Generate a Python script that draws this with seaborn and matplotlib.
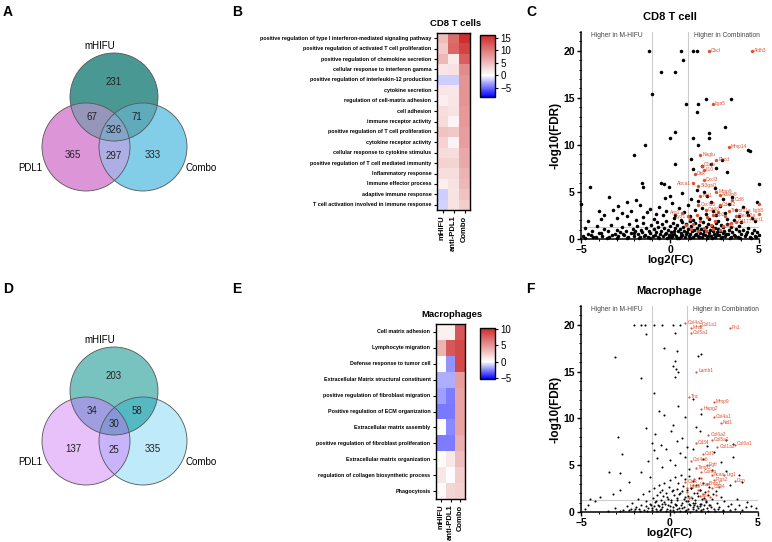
import numpy as np
import pandas as pd
import matplotlib
matplotlib.use("Agg")
import matplotlib.pyplot as plt
import seaborn as sns
from matplotlib.colors import LinearSegmentedColormap
from matplotlib.patches import Circle
from matplotlib.path import Path
from matplotlib.ticker import MultipleLocator

# ---------------- data ----------------
venn_a_counts = [231, 67, 71, 326, 365, 297, 333]   # top, top&left, top&right, all, left, left&right, right
venn_d_counts = [203, 34, 58, 30, 137, 25, 335]
venn_sets = ["mHIFU", "PDL1", "Combo"]

groups = ["mHIFU", "anti-PDL1", "Combo"]

cd8_terms = [
    "positive regulation of type I interferon-mediated signaling pathway",
    "positive regulation of activated T cell proliferation",
    "positive regulation of chemokine secretion",
    "cellular response to interferon gamma",
    "positive regulation of interleukin-12 production",
    "cytokine secretion",
    "regulation of cell-matrix adhesion",
    "cell adhesion",
    "immune receptor activity",
    "positive regulation of T cell proliferation",
    "cytokine receptor activity",
    "cellular response to cytokine stimulus",
    "positive regulation of T cell mediated immunity",
    "Inflammatory response",
    "Immune effector process",
    "adaptive immune response",
    "T cell activation involved in immune response",
]
cd8_mhifu = [5.0, 4.0, 5.3, 2.0, -1.7, 2.0, 1.3, 2.5, 2.7, 4.6, 3.4, 2.7, 3.4, 2.5, 1.3, -1.7, -1.5]
cd8_pdl1 = [11.0, 11.5, 1.5, 2.3, -1.7, 1.8, 2.0, 2.1, 0.8, 4.2, 0.8, 2.5, 3.3, 2.5, 2.3, 2.1, 2.1]
cd8_combo = [15.5, 14.0, 12.0, 8.8, 8.0, 8.0, 8.0, 7.6, 7.6, 7.2, 7.2, 6.5, 6.5, 5.7, 5.3, 4.6, 3.8]

mac_terms = [
    "Cell matrix adhesion",
    "Lymphocyte migration",
    "Defense response to tumor cell",
    "Extracellular Matrix structural constituent",
    "positive regulation of fibroblast migration",
    "Positive regulation of ECM organization",
    "Extracellular matrix assembly",
    "positive regulation of fibroblast proliferation",
    "Extracellular matrix organization",
    "regulation of collagen biosynthetic process",
    "Phagocytosis",
]
mac_mhifu = [0.7, 3.7, 0.0, -1.7, -2.0, -2.8, 0.0, -2.7, 0.2, 1.2, 0.2]
mac_pdl1 = [0.7, 8.1, -2.2, -1.7, -2.7, -2.8, -2.4, -2.7, 1.1, 0.0, 2.0]
mac_combo = [8.1, 8.8, 8.8, 4.7, 4.4, 4.4, 4.4, 3.9, 3.2, 2.5, 2.2]

# CD8 T cell volcano: non-significant / unlabeled genes (log2FC, -log10FDR)
cd8_x = [-1.2, 0.6, 1.3, 1.5, 0.75, -0.5, 0.3, -1.0, 2.0, 3.4, 1.6, 1.5, 0.9, 3.1, 0.3, 2.2, 2.2, 1.3, 0.0,
         -1.4, -2.0, 1.6, 4.4, 4.5, 1.2, 0.3, 2.3, 1.8, 2.9, 3.2, 2.6, 1.3, -4.5, -1.6, -1.5, -0.5, -0.35,
         -0.05, 0.0, -3.4, -2.4, -1.9, -5.0, 5.0, 4.9,
         -4.0, -3.7, -3.2, -2.9, -2.7, -2.2, -1.7, -1.3, -1.1, -0.8, -0.6, -0.3, -0.2, 0.1, 0.3, 0.5, 0.7,
         0.8, 1.0, 1.2, 1.4, 1.5, 1.6, 1.8, 1.9, 2.0, 2.1, 2.3, 2.4, 2.5, 2.6, 2.8, 3.0, 3.1, 3.3, 3.5,
         3.7, 3.9, 4.1, 4.3, 4.6, -4.6, -3.9, -3.0, -2.4, -1.9, -1.5, -0.9, -0.4, 0.2, 0.6, 1.1, 1.3, 1.7,
         2.2, 2.7, 3.2, 3.6, 4.0, 4.4, 4.8,
         -4.9, -4.8, -4.6, -4.4, -4.3, -4.1, -4.0, -3.8, -3.7, -3.5, -3.4, -3.3, -3.1, -3.0, -2.9, -2.8,
         -2.7, -2.6, -2.5, -2.4, -2.3, -2.2, -2.1, -2.0, -1.95, -1.85, -1.8, -1.7, -1.65, -1.55, -1.5,
         -1.4, -1.35, -1.25, -1.2, -1.1, -1.05, -0.95, -0.9, -0.8, -0.75, -0.7, -0.65, -0.55, -0.5,
         -0.45, -0.4, -0.35, -0.25, -0.2, -0.15, -0.1, -0.05, 0.0, 0.05, 0.1, 0.15, 0.2, 0.25, 0.3,
         0.35, 0.4, 0.45, 0.5, 0.55, 0.6, 0.65, 0.7, 0.75, 0.8, 0.85, 0.9, 0.95, 1.0, 1.05, 1.1, 1.15,
         1.2, 1.25, 1.3, 1.35, 1.4, 1.45, 1.5, 1.55, 1.6, 1.65, 1.7, 1.75, 1.8, 1.85, 1.9, 1.95, 2.0,
         2.05, 2.1, 2.15, 2.2, 2.25, 2.3, 2.35, 2.4, 2.45, 2.5, 2.55, 2.6, 2.65, 2.7, 2.75, 2.8, 2.85,
         2.9, 2.95, 3.0, 3.05, 3.1, 3.2, 3.25, 3.3, 3.4, 3.45, 3.5, 3.6, 3.7, 3.8, 3.85, 3.9, 4.0, 4.1,
         4.2, 4.3, 4.4, 4.5, 4.6, 4.7, 4.8, 4.9, 5.0,
         -4.75, -4.45, -4.15, -3.85, -3.55, -3.25, -2.95, -2.65, -2.35, -2.05, -1.75, -1.45, -1.15,
         -0.85, -0.6, -0.3, -0.08, 0.12, 0.38, 0.62, 0.88, 1.12, 1.38, 1.62, 1.88, 2.12, 2.38, 2.62,
         2.88, 3.15, 3.35, 3.65, 3.95, 4.25, 4.55, 4.85]
cd8_y = [20, 20, 20, 20, 19, 17.8, 17.8, 15.4, 14.9, 14.9, 14.4, 13.5, 14.3, 11.9, 11.4, 11.3, 10.7, 10.7, 10.7,
         10.0, 8.9, 10.0, 9.5, 9.3, 8.5, 8.0, 8.0, 7.8, 8.4, 7.1, 7.5, 7.4, 5.5, 5.9, 5.5, 5.9, 5.8,
         5.5, 4.6, 4.5, 3.9, 4.1, 3.7, 5.8, 3.9,
         3.0, 2.6, 3.1, 3.5, 2.8, 3.0, 3.6, 2.9, 3.2, 2.7, 3.4, 4.4, 3.0, 3.8, 2.6, 3.3, 4.9,
         2.9, 3.6, 4.3, 3.1, 5.2, 4.0, 3.3, 5.0, 2.7, 4.6, 3.9, 3.0, 5.4, 2.5, 3.5, 4.2, 2.8, 3.7, 4.5,
         3.1, 2.4, 3.4, 2.9, 2.2, 1.9, 2.1, 2.2, 2.4, 2.0, 2.3, 2.1, 2.5, 2.2, 2.0, 2.4, 2.0, 2.2,
         2.1, 1.9, 2.1, 2.0, 1.8, 2.5, 1.9,
         0.3, 1.2, 0.5, 0.9, 0.2, 1.4, 0.6, 0.3, 1.1, 0.8, 0.2, 1.5, 0.5, 1.0, 0.3, 0.7,
         1.3, 0.4, 0.9, 0.1, 1.6, 0.6, 1.1, 0.3, 0.8, 1.4, 0.5, 0.2, 1.0, 0.7, 1.7,
         0.4, 1.2, 0.2, 0.9, 0.6, 1.5, 0.3, 1.1, 0.7, 1.8, 0.2, 1.3, 0.5, 0.9,
         1.6, 0.3, 1.2, 0.6, 1.9, 0.1, 1.0, 0.4, 1.4, 0.7, 0.2, 1.7, 0.9, 0.5, 1.2,
         0.3, 1.5, 0.8, 0.1, 1.1, 0.6, 1.8, 0.4, 1.3, 0.9, 0.2, 1.6, 0.7, 1.1, 0.3, 1.9, 0.5,
         1.4, 0.8, 0.2, 1.0, 1.7, 0.5, 1.2, 0.3, 0.9, 1.5, 0.6, 1.1, 0.2, 1.8, 0.8, 0.4, 1.3,
         0.9, 0.1, 1.6, 0.6, 1.0, 0.3, 1.4, 0.8, 0.5, 1.2, 0.2, 1.7, 0.7, 1.1, 0.4, 0.9, 1.5,
         0.2, 0.6, 1.3, 0.9, 0.3, 1.6, 0.5, 1.0, 0.2, 1.3, 0.7, 0.4, 1.1, 0.2, 0.8, 1.4, 0.5, 1.0,
         0.3, 0.7, 1.2, 0.2, 0.6, 1.0, 0.3, 0.7, 0.4,
         0.1, 0.4, 0.2, 0.6, 0.1, 0.4, 0.1, 0.5, 0.2, 0.6, 0.1, 0.3, 0.1,
         0.4, 0.1, 0.5, 0.2, 0.4, 0.1, 0.3, 0.5, 0.1, 0.4, 0.2, 0.5, 0.3, 0.1, 0.4,
         0.1, 0.5, 0.1, 0.3, 0.1, 0.5, 0.1, 0.2]

# CD8 T cell volcano: highlighted genes
cd8_genes = ["Cbcl", "Aldh3", "Itga5", "Mmp14", "Naglu", "Pkcd", "C1qb", "Il10", "Dbk", "Cxcl3", "Abca1",
             "St3gal1", "Mmp9", "Ncl1", "Adam8", "Ccl6", "Cdc42", "Cxcl16", "Tnfrsf11a", "Itgb8", "Cxcr1",
             "Clec12a", "Cd177", "Mx1", "Arg1", "Lyz1", "Cd40", "Lcp2"]
cd8_gene_x = [2.2, 4.6, 2.4, 3.3, 1.7, 2.6, 1.8, 1.9, 1.4, 1.9, 1.3, 1.6, 2.6, 1.7, 2.8, 3.5, 2.8, 1.6, 3.3,
              5.0, 5.0, 3.7, 3.7, 3.0, 0.7, 1.0, 2.0, 2.4]
cd8_gene_y = [20, 20, 14.3, 9.8, 8.9, 8.4, 7.8, 7.3, 6.9, 6.3, 5.9, 5.6, 5.0, 4.6, 4.7, 4.1, 3.6, 3.6, 3.0,
              3.7, 2.7, 2.4, 1.8, 1.4, 2.8, 2.4, 3.1, 2.5]
cd8_sig_x = [1.1, 1.3, 1.5, 1.7, 1.9, 2.1, 2.3, 2.5, 2.7, 2.8, 1.2, 1.6, 2.0, 2.4, 0.9, 3.1, 3.4]
cd8_sig_y = [2.1, 1.6, 2.6, 1.9, 1.2, 2.3, 1.5, 1.9, 2.9, 1.0, 1.1, 0.9, 0.8, 1.1, 1.5, 2.4, 1.7]

# Macrophage volcano: unlabeled genes
mac_x = [-2.0, -1.6, -1.4, -0.9, -0.4, 0.2, 0.6, -1.3, 0.3, -0.3, 0.4, 1.6, 1.8, -3.1, 0.3, 0.2, 0.35, 0.5,
         0.3, -1.6, -0.9, 1.3, 0.5, -0.6, -0.3, 1.8, 0.9, -1.3, 0.2, 1.5, -2.9, -0.8, 0.1, 0.7, 1.7, 3.6,
         -1.0, -0.5, 0.4, 1.0, 2.1, 3.2, -2.7, -0.9, -0.2, 0.6, 1.3, 2.5, 3.6, -3.4, -2.8, -1.2, -0.7,
         0.0, 0.9, 1.9, 2.9, 3.2, 3.9, 4.1, -2.8, -2.3, -1.6, -1.1, -0.4, 0.3, 1.1, 2.4, 3.4, -4.5, -3.9,
         -3.2, -4.2, 3.8, 4.4, 4.6, -4.8, -4.6, 4.9,
         -2.6, -2.4, -2.2, -2.1, -2.0, -1.9, -1.8, -1.7, -1.6, -1.5, -1.45, -1.35, -1.3, -1.2, -1.15,
         -1.1, -1.0, -0.95, -0.9, -0.85, -0.8, -0.75, -0.7, -0.65, -0.6, -0.55, -0.5, -0.45, -0.4, -0.35,
         -0.3, -0.25, -0.2, -0.15, -0.1, -0.05, 0.0, 0.05, 0.1, 0.15, 0.2, 0.25, 0.3, 0.35, 0.4, 0.45,
         0.5, 0.55, 0.6, 0.65, 0.7, 0.75, 0.8, 0.85, 0.9, 0.95, 1.0, 1.05, 1.1, 1.15, 1.2, 1.25, 1.3,
         1.35, 1.4, 1.45, 1.5, 1.55, 1.6, 1.65, 1.7, 1.75, 1.8, 1.85, 1.9, 1.95, 2.0, 2.05, 2.1, 2.2,
         2.25, 2.3, 2.4, 2.5, 2.6, 2.7, 2.8, 2.9, 3.0, 3.1, 3.3, 3.5, 3.7, 3.9, 4.1, 4.3,
         -3.5, -3.1, -2.8, -2.3, -1.95, -1.65, -1.25, -0.98, -0.72, -0.48, -0.22, 0.02, 0.18, 0.28, 0.42,
         0.58, 0.72, 0.88, 1.02, 1.18, 1.32, 1.48, 1.62, 1.78, 1.92, 2.15, 2.35, 2.55, 2.75, 3.05, 3.4,
         -0.6, -0.1, 0.3, 0.65, 1.1, 1.4, 1.75, 2.25,
         -0.75, -0.4, -0.15, 0.1, 0.35, 0.55, 0.8, 1.05, 1.3, 1.55, 1.8, 2.05, -1.05, -0.3, 0.45, 0.95,
         1.45, 1.95, -0.55, 0.2, 0.7, 1.2, 1.7, 2.45]
mac_y = [20, 20, 20, 20, 20, 20, 20, 19, 19.1, 17.5, 17.2, 16.7, 16.9, 16.6, 16.1, 15.6, 15.3, 15.0,
         14.4, 14.3, 12.7, 12.1, 11.3, 10.8, 10.4, 10.5, 10.1, 9.0, 9.3, 9.1, 8.0, 8.3, 8.6, 7.9, 8.6, 7.3,
         7.4, 7.2, 7.6, 6.9, 7.0, 7.7, 6.2, 6.6, 6.7, 6.3, 6.7, 6.4, 5.9, 4.3, 4.2, 5.4, 5.8,
         5.6, 5.9, 5.7, 5.3, 4.4, 4.0, 3.2, 2.4, 3.2, 4.3, 3.7, 4.8, 5.0, 4.6, 4.5, 2.9, 1.4, 1.6,
         1.9, 1.2, 1.4, 1.1, 0.6, 0.3, 0.8, 0.4,
         0.2, 0.6, 0.3, 1.0, 0.1, 0.5, 1.4, 0.3, 0.8, 1.9, 0.2, 0.6, 1.2, 0.4, 2.2,
         0.9, 0.2, 1.5, 0.6, 2.6, 1.1, 0.3, 1.8, 0.7, 2.9, 0.2, 1.3, 2.3, 0.5, 1.7,
         3.1, 0.9, 2.0, 0.3, 1.4, 2.7, 0.6, 3.4, 1.1, 2.2, 0.2, 1.8, 3.7, 0.8, 2.5, 1.3,
         3.1, 0.4, 2.0, 3.9, 1.0, 2.8, 0.5, 1.6, 3.5, 0.2, 2.3, 1.2, 3.8, 0.7, 2.6, 1.5, 3.3,
         0.3, 2.0, 1.0, 2.9, 0.6, 1.7, 3.6, 0.9, 2.4, 0.2, 1.4, 3.1, 0.7, 2.1, 1.1, 0.4, 1.8,
         2.7, 0.8, 1.4, 0.3, 2.2, 1.0, 0.5, 1.6, 0.2, 1.2, 0.6, 0.9, 0.3, 0.7, 0.2, 0.5,
         0.1, 0.4, 0.1, 0.2, 0.3, 0.1, 0.15, 0.4, 0.1, 0.35, 0.1, 0.25, 0.5, 0.05, 0.3,
         0.1, 0.45, 0.15, 0.35, 0.05, 0.5, 0.2, 0.4, 0.1, 0.3, 0.15, 0.5, 0.1, 0.3, 0.1, 0.2,
         0.6, 0.8, 0.9, 0.7, 0.9, 0.7, 0.6, 0.7,
         1.2, 0.9, 1.6, 1.3, 0.8, 1.9, 1.4, 1.7, 1.0, 2.0, 0.9, 1.2, 0.8, 1.1, 1.5, 1.2,
         1.3, 1.5, 2.1, 2.4, 2.2, 2.6, 2.3, 1.9]

# Macrophage volcano: highlighted genes
mac_genes = ["Col4a3", "Mrc2", "Col1a1", "Col5a1", "Fn1", "Lamb1", "Tnc", "Mmp9", "Hapg2", "Col4a1", "Nid1",
             "Col6a2", "Col5a2", "Cd34", "Col1a2", "Col6a1", "Csf1", "Col4a6", "Egfr", "Timp3", "Comp",
             "Lrg1", "Dcn", "Acan", "Ptgs2", "Bmp1", "Cd44", "Lox", "Ctsk", "Itga5", "Vcan"]
mac_gene_x = [0.9, 1.2, 1.7, 1.2, 3.4, 1.5, 1.1, 2.5, 1.8, 2.5, 2.9, 2.2, 2.4, 1.5, 2.7, 3.7, 1.9, 1.2, 2.1,
              1.5, 1.8, 3.1, 3.7, 2.4, 2.5, 2.1, 2.4, 1.7, 0.9, 1.0, 1.6]
mac_gene_y = [20.2, 19.6, 19.9, 19.1, 19.6, 15.0, 12.3, 11.7, 11.0, 10.1, 9.5, 8.2, 7.7, 7.4, 6.9, 7.2, 6.2,
              5.5, 5.0, 4.7, 4.3, 3.9, 3.3, 3.9, 3.4, 3.0, 2.6, 1.7, 3.2, 2.6, 2.9]
mac_sig_x = [1.0, 1.2, 1.4, 1.6, 1.9, 2.2, 2.6, 2.8, 1.3, 2.0, 2.3, 1.1, 1.8]
mac_sig_y = [2.1, 1.6, 3.5, 2.4, 1.9, 2.2, 1.8, 2.7, 2.9, 1.4, 1.6, 1.5, 3.6]

# ---------------- layout helpers ----------------
W, H = 772, 542
RED = "#e0502f"


def box(left, top, right, bottom):
    """Pixel box (from top-left) to figure fraction."""
    return [left / W, 1 - bottom / H, (right - left) / W, (bottom - top) / H]


plt.rcParams["font.family"] = ["Liberation Sans", "DejaVu Sans"]
fig = plt.figure(figsize=(W / 100, H / 100), dpi=100)


def draw_venn(top, counts, colors, dy):
    ax = fig.add_axes(box(0, top, 230, top + 271))
    ax.set_xlim(0, 230)
    ax.set_ylim(271, 0)
    ax.axis("off")
    r = 44
    ct, cl, cr = (114, 97 + dy), (86, 147 + dy), (143, 147 + dy)
    c_top, c_left, c_right, c_tl, c_tr, c_lr, c_all = colors
    for c, col in [(ct, c_top), (cl, c_left), (cr, c_right)]:
        ax.add_patch(Circle(c, r, facecolor=col, edgecolor="none"))
    for c, clip_c, col in [(cl, ct, c_tl), (cr, ct, c_tr), (cr, cl, c_lr)]:
        p = Circle(c, r, facecolor=col, edgecolor="none")
        ax.add_patch(p)
        p.set_clip_path(Circle(clip_c, r, transform=ax.transData))
    # lens shared by the two lower circles, used to clip the triple overlap
    d = cr[0] - cl[0]
    a = np.arccos(d / (2 * r))
    t1 = np.linspace(-a, a, 80)
    t2 = np.linspace(np.pi - a, np.pi + a, 80)
    verts = np.vstack([np.c_[cl[0] + r * np.cos(t1), cl[1] + r * np.sin(t1)],
                       np.c_[cr[0] + r * np.cos(t2), cr[1] + r * np.sin(t2)]])
    p = Circle(ct, r, facecolor=c_all, edgecolor="none")
    ax.add_patch(p)
    p.set_clip_path(Path(verts), ax.transData)
    for c in [ct, cl, cr]:
        ax.add_patch(Circle(c, r, facecolor="none", edgecolor="#555555", linewidth=0.6))
    spots = [(114, 82), (92, 117), (137, 117), (114, 130), (73, 155), (114, 156), (153, 155)]
    for (x, y), n in zip(spots, counts):
        ax.text(x, y + dy, str(n), ha="center", va="center", fontsize=7, color="#222222")
    ax.text(100, 46 + dy, venn_sets[0], ha="center", va="center", fontsize=7)
    ax.text(30, 168 + dy, venn_sets[1], ha="center", va="center", fontsize=7)
    ax.text(185, 168 + dy, venn_sets[2], ha="left", va="center", fontsize=7)


draw_venn(0, venn_a_counts,
          ["#4a9894", "#dc96d7", "#82cde8", "#9696ba", "#5faabb", "#adafe4", "#82a5c8"], 0)
draw_venn(271, venn_d_counts,
          ["#78c3c0", "#e8c0fa", "#beeafa", "#a09ee1", "#55b9c3", "#c8b4fa", "#8796d7"], 23)


def draw_heatmap(ax_box, cax_box, terms, cols, vmin, vmax, ticks, title):
    ax = fig.add_axes(box(*ax_box))
    cax = fig.add_axes(box(*cax_box))
    df = pd.DataFrame(dict(zip(groups, cols)), index=terms)
    white = -vmin / (vmax - vmin)
    cmap = LinearSegmentedColormap.from_list(
        "bwr_custom", [(0, "#0000ff"), (white, "#ffffff"), (1, "#cc2a2a")])
    sns.heatmap(df, ax=ax, cmap=cmap, vmin=vmin, vmax=vmax, cbar_ax=cax,
                xticklabels=True, yticklabels=True)
    for s in ax.spines.values():
        s.set_visible(True)
        s.set_linewidth(1.0)
    ax.tick_params(axis="both", length=2.5, width=0.8, pad=1.5)
    ax.set_yticklabels(terms, fontsize=3.9, fontweight="bold", rotation=0)
    ax.set_xticklabels(groups, fontsize=5.5, fontweight="bold", rotation=90)
    ax.set_title(title, fontsize=6.8, fontweight="bold", pad=5, x=0.55)
    cb = ax.collections[0].colorbar
    cb.set_ticks(ticks)
    cb.outline.set_linewidth(1.0)
    cax.tick_params(labelsize=7, length=2, width=0.8, pad=2)


draw_heatmap((437, 33, 470, 210), (480, 35, 495, 97), cd8_terms,
             [cd8_mhifu, cd8_pdl1, cd8_combo], -8.5, 16, [-5, 0, 5, 10, 15], "CD8 T cells")
draw_heatmap((436, 324, 465, 499), (480, 328, 495, 379), mac_terms,
             [mac_mhifu, mac_pdl1, mac_combo], -5.3, 10.3, [-5, 0, 5, 10], "Macrophages")


def draw_volcano(ax_box, bx, by, sx, sy, genes, gx, gy, title, s_black, s_red, left_names, below_names):
    ax = fig.add_axes(box(*ax_box))
    ax.axvline(-1, color="#cccccc", lw=0.8, zorder=0)
    ax.axvline(1, color="#cccccc", lw=0.8, zorder=0)
    ax.axhline(1.3, color="#cccccc", lw=0.8, zorder=0)
    sns.scatterplot(x=bx, y=by, ax=ax, color="black", s=s_black, linewidth=0, clip_on=False, zorder=2)
    sns.scatterplot(x=list(gx) + list(sx), y=list(gy) + list(sy), ax=ax, color=RED, s=s_red,
                    linewidth=0, clip_on=False, zorder=3)
    for g, x, y in zip(genes, gx, gy):
        if g in left_names:
            off, ha, va = (-1.5, 0), "right", "center"
        elif g in below_names:
            off, ha, va = (-1, -2.5), "center", "top"
        else:
            off, ha, va = (1.5, 0.5), "left", "center"
        ax.annotate(g, (x, y), xytext=off, textcoords="offset points", ha=ha, va=va,
                    fontsize=3.5, color=RED)
    ax.text(-3.0, 21.6, "Higher in M-HIFU", ha="center", va="center", fontsize=4.8, color="#444444")
    ax.text(3.2, 21.6, "Higher in Combination", ha="center", va="center", fontsize=4.8, color="#444444")
    ax.set_xlim(-5, 5)
    ax.set_ylim(0, 22)
    ax.set_xticks([-5, 0, 5])
    ax.set_yticks([0, 5, 10, 15, 20])
    ax.yaxis.set_minor_locator(MultipleLocator(1))
    ax.xaxis.set_minor_locator(MultipleLocator(1))
    for s in ["top", "right"]:
        ax.spines[s].set_visible(False)
    for s in ["left", "bottom"]:
        ax.spines[s].set_linewidth(1.1)
    ax.tick_params(which="major", length=3, width=1.0, labelsize=7.5, pad=1.5)
    ax.tick_params(which="minor", length=1.5, width=0.7)
    for lab in ax.get_xticklabels() + ax.get_yticklabels():
        lab.set_fontweight("bold")
    ax.set_xlabel("log2(FC)", fontsize=8.2, fontweight="bold", labelpad=0)
    ax.set_ylabel("-log10(FDR)", fontsize=8.5, fontweight="bold", labelpad=1)
    ax.set_title(title, fontsize=8, fontweight="bold", pad=9)


draw_volcano((581, 32, 759, 239), cd8_x, cd8_y, cd8_sig_x, cd8_sig_y, cd8_genes, cd8_gene_x, cd8_gene_y,
             "CD8 T cell", 6.5, 6, {"Abca1", "Arg1", "Lyz1"}, {"Itgb8", "Cxcr1"})
draw_volcano((581, 306, 758, 512), mac_x, mac_y, mac_sig_x, mac_sig_y, mac_genes, mac_gene_x, mac_gene_y,
             "Macrophage", 2.2, 2.5, set(), set())

for letter, x, y in [("A", 3, 5), ("B", 232, 5), ("C", 526, 5), ("D", 3, 282), ("E", 232, 282), ("F", 526, 282)]:
    fig.text(x / W, 1 - y / H, letter, fontsize=10, fontweight="bold", va="top", ha="left")

fig.savefig("out.png", dpi=100, facecolor="white")
